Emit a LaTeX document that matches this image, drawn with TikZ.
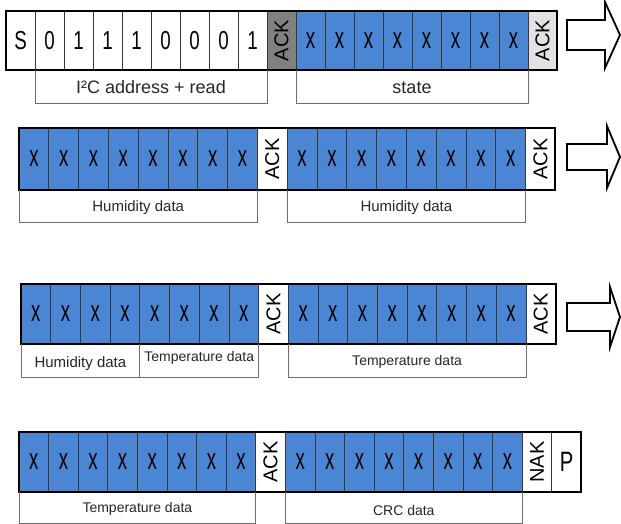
\documentclass[tikz,border=0pt]{standalone}
\usepackage{fontspec}
\setmainfont{Liberation Sans}
\newfontfamily\narrowsf[FakeStretch=0.72]{Liberation Sans}
\newfontfamily\narrowx[FakeStretch=0.62]{Liberation Sans}
\usetikzlibrary{positioning}

\definecolor{bitblue}{RGB}{74,134,212}
\definecolor{ackdark}{RGB}{128,128,128}
\definecolor{acklight}{RGB}{226,226,226}
\definecolor{sepgray}{RGB}{55,55,55}
\definecolor{boxgray}{RGB}{110,110,110}

\newcommand\cellw{29.7pt}
\newcommand\cellh{60pt}

\begin{document}
\begin{tikzpicture}[x=1pt, y=-1pt, node distance=0pt,
    bit cell/.style={draw=sepgray, line width=0.8pt, minimum width=\cellw, minimum height=\cellh, inner sep=0pt, outer sep=0pt, font=\narrowsf\fontsize{26}{26}\selectfont},
    data cell/.style={bit cell, fill=bitblue, font=\narrowx\fontsize{30}{30}\selectfont},
    ack cell/.style={bit cell, font=\fontsize{20}{20}\selectfont},
    frame/.style={draw=black, line width=2pt},
    label box/.style={draw=boxgray, line width=0.8pt},
    label text/.style={font=\fontsize{14}{14}\selectfont, text=black!85},
    fat arrow/.style={draw=black, line width=1.8pt, line join=miter}]
\useasboundingbox (0,0) rectangle (621,524);

% row 1: address + state
\renewcommand\cellw{29pt}\renewcommand\cellh{59pt}
\node[bit cell, anchor=north west] (r1s) at (6,11) {S};
\foreach \s/\t/\b in {r1b1/r1s/0, r1b2/r1b1/1, r1b3/r1b2/1, r1b4/r1b3/1, r1b5/r1b4/0, r1b6/r1b5/0, r1b7/r1b6/0, r1b8/r1b7/1}{
    \node[bit cell] (\s) [right=of \t] {\b};}
\node[ack cell, fill=ackdark] (r1a1) [right=of r1b8] {\rotatebox{90}{ACK}};
\foreach \s/\t in {r1x1/r1a1, r1x2/r1x1, r1x3/r1x2, r1x4/r1x3, r1x5/r1x4, r1x6/r1x5, r1x7/r1x6, r1x8/r1x7}{
    \node[data cell] (\s) [right=of \t] {x};}
\node[ack cell, fill=acklight] (r1a2) [right=of r1x8] {\rotatebox{90}{ACK}};
\draw[frame] (r1s.north west) rectangle (r1a2.south east);
\draw[label box] (r1b1.south west) -- ++(0,33) -| node[pos=0.25, label text, yshift=16pt, font=\fontsize{18}{18}\selectfont] (l1a) {I²C address + read} (r1b8.south east);
\draw[label box] (r1x1.south west) -- ++(0,33) -| node[pos=0.25, label text, yshift=15pt, font=\fontsize{18}{18}\selectfont] (l1b) {state} (r1x8.south east);

% row 2: humidity
\renewcommand\cellw{29.8pt}\renewcommand\cellh{62pt}
\node[data cell, anchor=north west] (r2x1) at (19,128) {x};
\foreach \s/\t in {r2x2/r2x1, r2x3/r2x2, r2x4/r2x3, r2x5/r2x4, r2x6/r2x5, r2x7/r2x6, r2x8/r2x7}{
    \node[data cell] (\s) [right=of \t] {x};}
\node[ack cell] (r2a1) [right=of r2x8] {\rotatebox{90}{ACK}};
\foreach \s/\t in {r2y1/r2a1, r2y2/r2y1, r2y3/r2y2, r2y4/r2y3, r2y5/r2y4, r2y6/r2y5, r2y7/r2y6, r2y8/r2y7}{
    \node[data cell] (\s) [right=of \t] {x};}
\node[ack cell] (r2a2) [right=of r2y8] {\rotatebox{90}{ACK}};
\draw[frame] (r2x1.north west) rectangle (r2a2.south east);
\draw[label box] (r2x1.south west) -- ++(0,32) -| node[pos=0.25, label text, yshift=14pt, font=\fontsize{15}{15}\selectfont] (l2a) {Humidity data} (r2x8.south east);
\draw[label box] (r2y1.south west) -- ++(0,32) -| node[pos=0.25, label text, yshift=14pt, font=\fontsize{15}{15}\selectfont] (l2b) {Humidity data} (r2y8.south east);

% row 3: humidity + temperature
\renewcommand\cellw{29.7pt}\renewcommand\cellh{60pt}
\node[data cell, anchor=north west] (r3x1) at (21,284) {x};
\foreach \s/\t in {r3x2/r3x1, r3x3/r3x2, r3x4/r3x3, r3x5/r3x4, r3x6/r3x5, r3x7/r3x6, r3x8/r3x7}{
    \node[data cell] (\s) [right=of \t] {x};}
\node[ack cell] (r3a1) [right=of r3x8] {\rotatebox{90}{ACK}};
\foreach \s/\t in {r3y1/r3a1, r3y2/r3y1, r3y3/r3y2, r3y4/r3y3, r3y5/r3y4, r3y6/r3y5, r3y7/r3y6, r3y8/r3y7}{
    \node[data cell] (\s) [right=of \t] {x};}
\node[ack cell] (r3a2) [right=of r3y8] {\rotatebox{90}{ACK}};
\draw[frame] (r3x1.north west) rectangle (r3a2.south east);
\draw[label box] (r3x1.south west) -- ++(0,33) -| node[pos=0.25, label text, yshift=13pt, font=\fontsize{15}{15}\selectfont] (l3a) {Humidity data} (r3x4.south east);
\draw[label box] (r3x5.south west) -- ++(0,33) -| node[pos=0.25, label text, yshift=19pt] (l3b) {Temperature data} (r3x8.south east);
\draw[label box] (r3y1.south west) -- ++(0,33) -| node[pos=0.25, label text, yshift=15pt] (l3c) {Temperature data} (r3y8.south east);

% row 4: temperature + crc
\renewcommand\cellw{29.6pt}
\node[data cell, anchor=north west] (r4x1) at (19,432) {x};
\foreach \s/\t in {r4x2/r4x1, r4x3/r4x2, r4x4/r4x3, r4x5/r4x4, r4x6/r4x5, r4x7/r4x6, r4x8/r4x7}{
    \node[data cell] (\s) [right=of \t] {x};}
\node[ack cell] (r4a1) [right=of r4x8] {\rotatebox{90}{ACK}};
\foreach \s/\t in {r4y1/r4a1, r4y2/r4y1, r4y3/r4y2, r4y4/r4y3, r4y5/r4y4, r4y6/r4y5, r4y7/r4y6, r4y8/r4y7}{
    \node[data cell] (\s) [right=of \t] {x};}
\node[ack cell] (r4n) [right=of r4y8] {\rotatebox{90}{NAK}};
\node[bit cell, font=\narrowsf\fontsize{28}{28}\selectfont] (r4p) [right=of r4n] {P};
\draw[frame] (r4x1.north west) rectangle (r4p.south east);
\draw[label box] (r4x1.south west) -- ++(0,31) -| node[pos=0.25, label text, yshift=14pt] (l4a) {Temperature data} (r4x8.south east);
\draw[label box] (r4y1.south west) -- ++(0,31) -| node[pos=0.25, label text, yshift=13pt] (l4b) {CRC data} (r4y8.south east);

% continuation arrows
\foreach \y/\s/\h/\k in {35/15/33/605, 157/13/31/607, 317/14/30/610}{
    \draw[fat arrow] (567,\y-\s) -- (\k,\y-\s) -- (\k,\y-\h) -- (620,\y) -- (\k,\y+\h) -- (\k,\y+\s) -- (567,\y+\s) -- cycle;}
\end{tikzpicture}
\end{document}
